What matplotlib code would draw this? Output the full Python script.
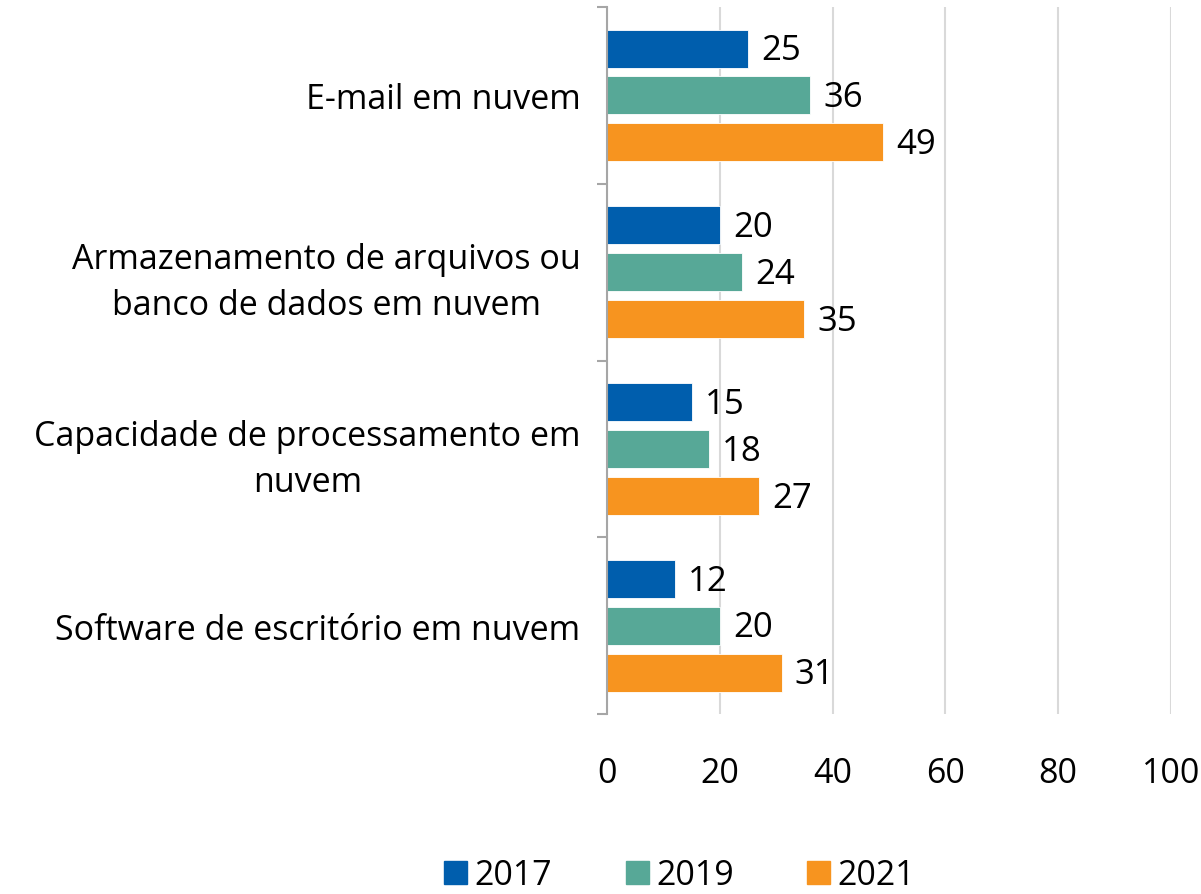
import numpy as np
import matplotlib.pyplot as plt
from matplotlib.patches import Patch

plt.rcParams['font.family'] = ['Open Sans', 'DejaVu Sans']

categories = ["E-mail em nuvem",
              "Armazenamento de arquivos ou\nbanco de dados em nuvem",
              "Capacidade de processamento em\nnuvem",
              "Software de escritório em nuvem"]
years = ["2017", "2019", "2021"]
v2017 = [25, 20, 15, 12]
v2019 = [36, 24, 18, 20]
v2021 = [49, 35, 27, 31]
colors = ["#005EAD", "#57A897", "#F7941F"]

fig = plt.figure(figsize=(12.01, 8.95), dpi=100)
ax = fig.add_axes([0.5054, 0.201, 0.4696, 0.790])

fs = 24.5
n = len(categories)
y = np.arange(n)[::-1].astype(float)
h = 0.215
step = 0.265
for k, (vals, col) in enumerate(zip([v2017, v2019, v2021], colors)):
    yy = y + step * (1 - k)
    ax.barh(yy, vals, height=h, color=col, edgecolor='white', linewidth=0.6, zorder=3)
    for yi, v in zip(yy, vals):
        ax.text(v + 2.3, yi - 0.01, str(v), va='center', ha='left', fontsize=fs + 0.5, zorder=4)

ax.set_xlim(0, 100)
ax.set_ylim(-0.5, n - 0.5)
ax.set_xticks(np.arange(0, 101, 20))
ax.tick_params(axis='x', length=0, pad=30, labelsize=fs)
ax.set_yticks(y)
ax.set_yticklabels(categories, fontsize=fs, linespacing=1.45)
for lbl in ax.get_yticklabels():
    lbl.set_multialignment('center')
ax.tick_params(axis='y', which='major', length=0, pad=19)
ax.set_yticks(np.arange(n + 1) - 0.5, minor=True)
ax.tick_params(axis='y', which='minor', length=7, color='#a6a6a6', width=1.5)
ax.grid(axis='x', color='#d9d9d9', linewidth=1.5, zorder=0)
for s in ['top', 'right', 'bottom']:
    ax.spines[s].set_visible(False)
ax.spines['left'].set_color('#a6a6a6')
ax.spines['left'].set_linewidth(1.5)
ax.spines['left'].set_zorder(5)

handles = [Patch(color=c, label=yr) for c, yr in zip(colors, years)]
fig.legend(handles=handles, loc='center', bbox_to_anchor=(0.566, 0.021), ncol=3,
           frameon=False, fontsize=fs, handlelength=0.68, handleheight=0.68,
           handletextpad=0.22, columnspacing=2.15)

fig.savefig("out.png", dpi=100)
